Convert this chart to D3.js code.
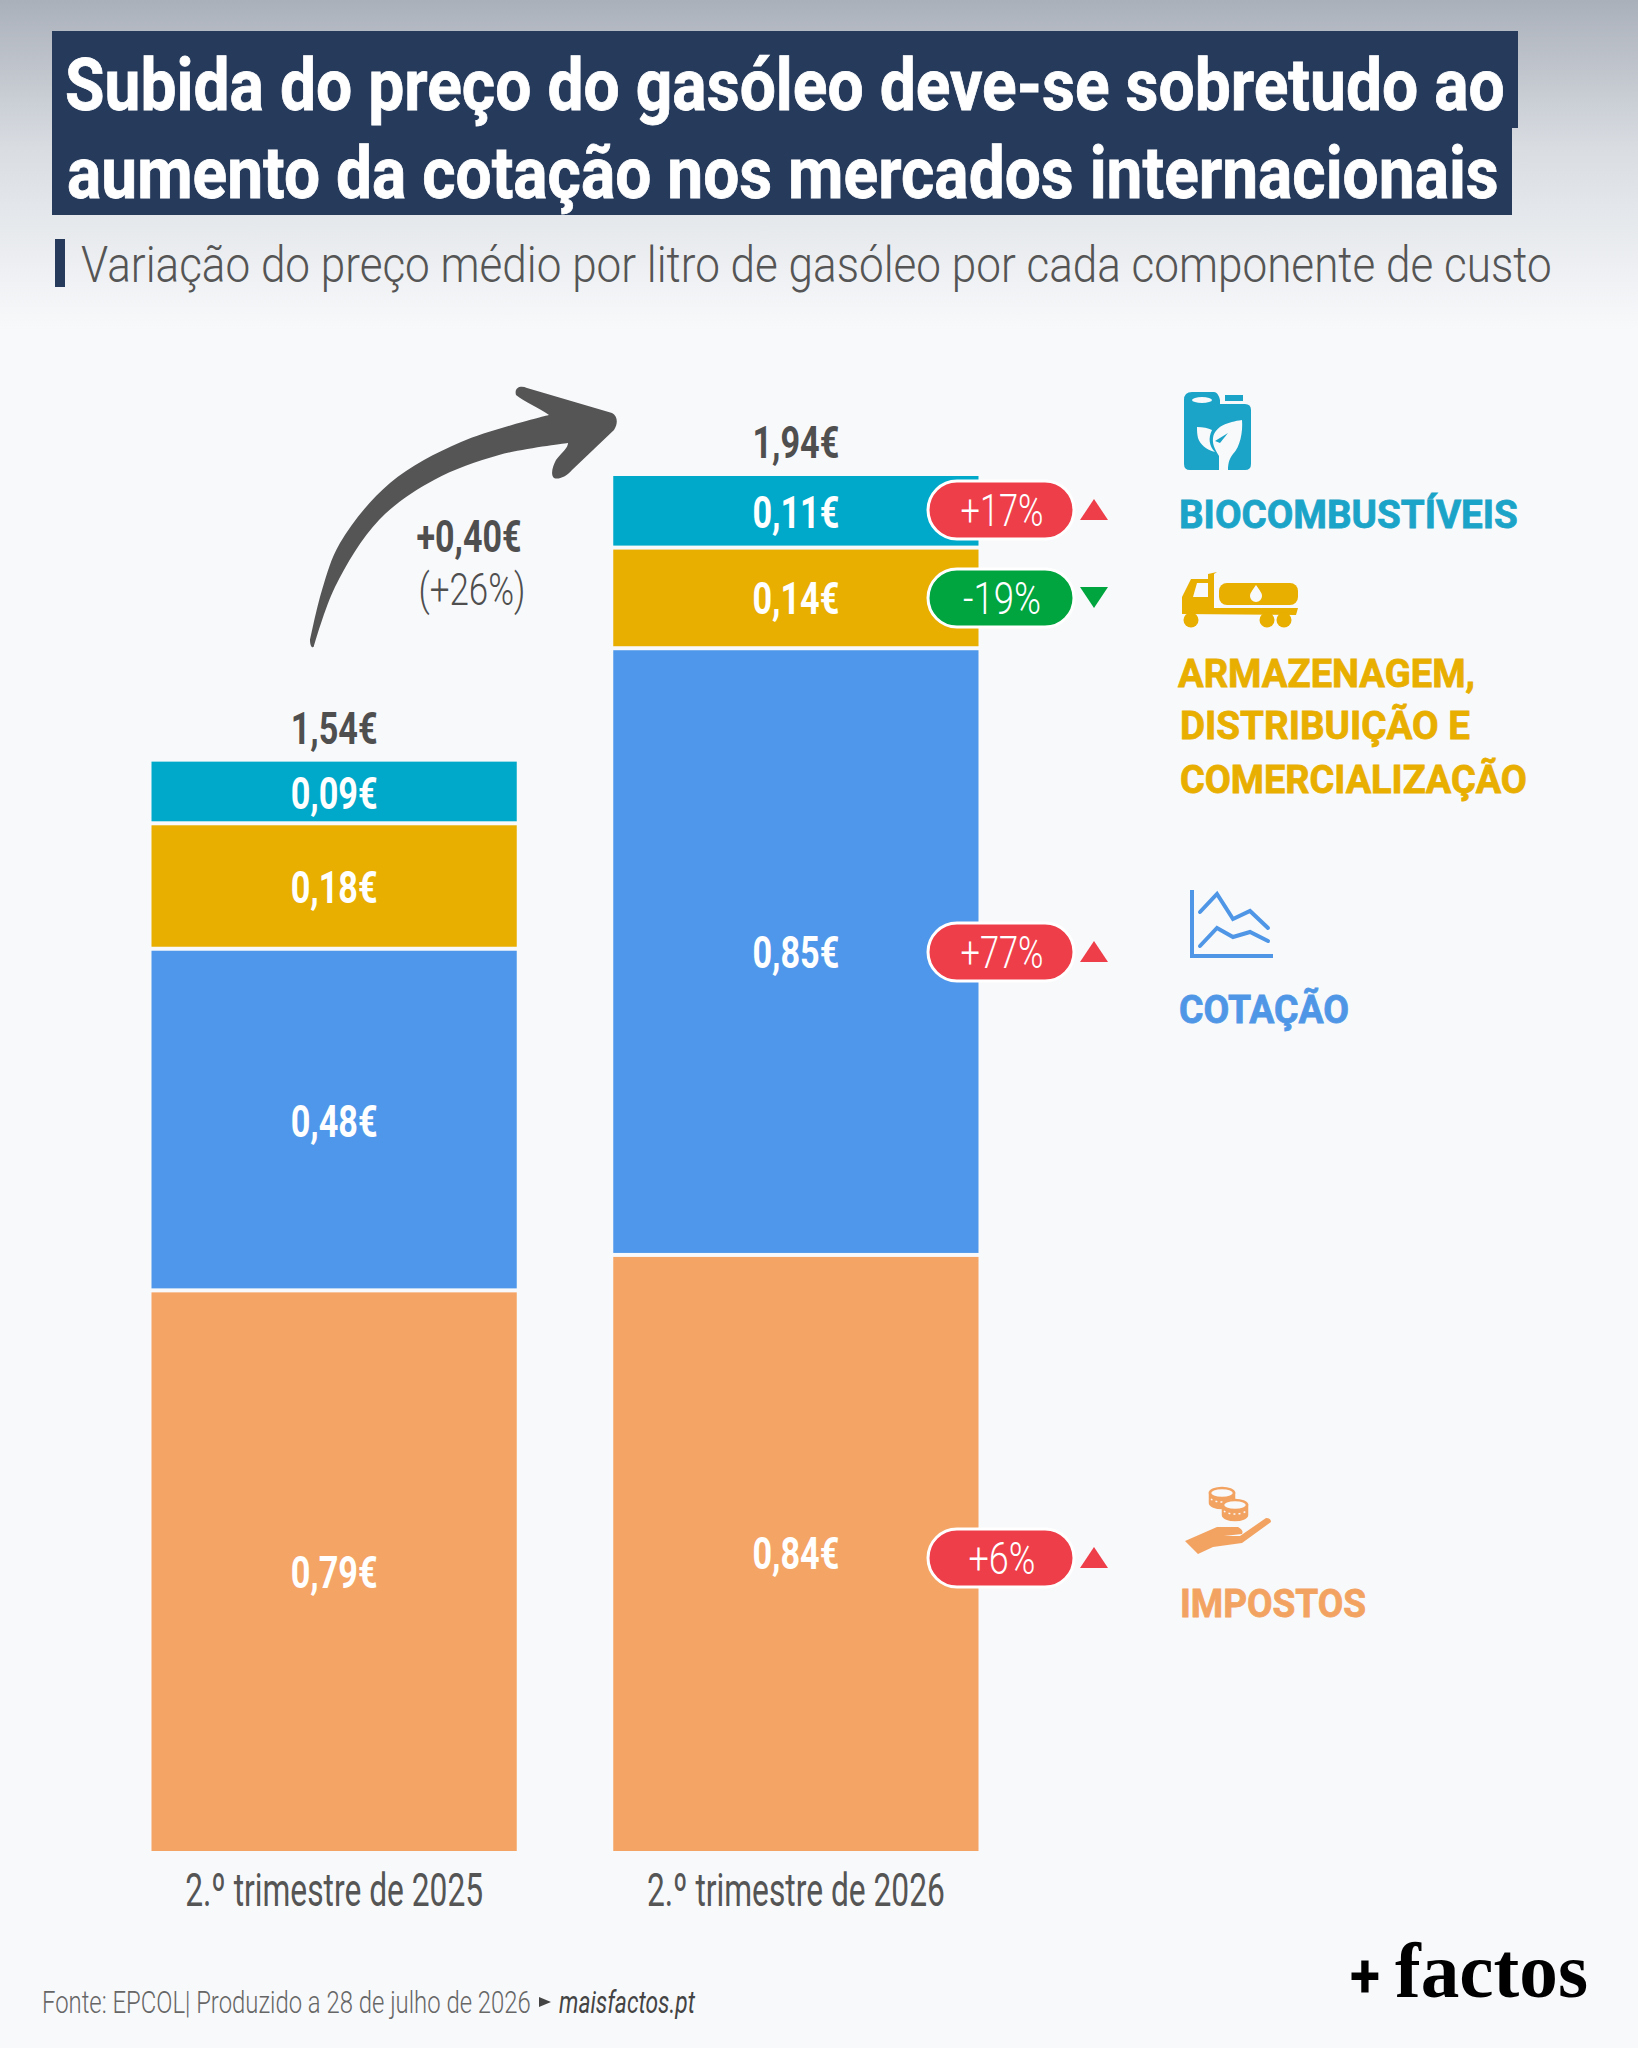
<!DOCTYPE html>
<html>
<head>
<meta charset="utf-8">
<script src="https://cdn.jsdelivr.net/npm/d3@7"></script>
<style>
  html, body { margin: 0; padding: 0; background: #f8f9fb; }
  svg { display: block; }
  text { font-family: Roboto, sans-serif; }
</style>
</head>
<body>
<div id="chart"></div>
<script>
// Data
const quarters = ["2.º trimestre de 2025", "2.º trimestre de 2026"];
const components = ["impostos", "cotacao", "armazenagem", "biocombustiveis"];
// segment heights in euro per litre, measured on the bars
const heights2025 = [0.791, 0.482, 0.177, 0.087];
const heights2026 = [0.841, 0.856, 0.142, 0.101];
// values as printed on the bars
const labels2025 = ["0,79€", "0,48€", "0,18€", "0,09€"];
const labels2026 = ["0,84€", "0,85€", "0,14€", "0,11€"];
const totals = ["1,54€", "1,94€"];
const changes = ["+6%", "+77%", "-19%", "+17%"];

const colors = { impostos: "#f4a465", cotacao: "#4f97ea", armazenagem: "#e8ae00", biocombustiveis: "#00a9c9" };
const legendColors = { impostos: "#f3a361", cotacao: "#4f97e6", armazenagem: "#e8ae00", biocombustiveis: "#1ba4c8" };
const grey = "#4f4f4f";
const paper = "#f8f9fb";

const W = 1638, H = 2048;

const svg = d3.select("#chart").append("svg")
  .attr("width", W)
  .attr("height", H);

// Background fade at the top
const defs = svg.append("defs");
const grad = defs.append("linearGradient")
  .attr("id", "topFade")
  .attr("x1", 0).attr("x2", 0).attr("y1", 0).attr("y2", 1);
grad.append("stop").attr("offset", "0%").attr("stop-color", "#aab0ba");
grad.append("stop").attr("offset", "45%").attr("stop-color", "#d9dde2");
grad.append("stop").attr("offset", "100%").attr("stop-color", paper);
svg.append("rect").attr("width", W).attr("height", H).attr("fill", paper);
svg.append("rect").attr("width", W).attr("height", 330).attr("fill", "url(#topFade)");

// Text helper, data-w is the measured width, applied at the end of the file
function label(g, str, x, y, size, weight, fill, width, anchor) {
  return g.append("text")
    .attr("transform", `translate(${x},${y})`)
    .attr("font-size", size)
    .attr("font-weight", weight)
    .attr("fill", fill)
    .attr("text-anchor", anchor || "start")
    .attr("data-w", width)
    .text(str);
}

// Title
const navy = "#263a5c";
svg.append("rect").attr("x", 52).attr("y", 31).attr("width", 1466).attr("height", 97).attr("fill", navy);
svg.append("rect").attr("x", 52).attr("y", 127).attr("width", 1460).attr("height", 88).attr("fill", navy);
label(svg, "Subida do preço do gasóleo deve-se sobretudo ao", 65, 110, 72, 700, "#fff", 1440)
  .attr("stroke", "#fff").attr("stroke-width", 0.8);
label(svg, "aumento da cotação nos mercados internacionais", 67, 198, 72, 700, "#fff", 1432)
  .attr("stroke", "#fff").attr("stroke-width", 0.8);

// Subtitle
svg.append("rect").attr("x", 55).attr("y", 239).attr("width", 10).attr("height", 48).attr("fill", navy);
label(svg, "Variação do preço médio por litro de gasóleo por cada componente de custo", 81, 282, 50, 300, "#555", 1471);

// Scales
const x = d3.scaleBand().domain(quarters).range([151.5, 978.5]).paddingInner(0.209);
const y = d3.scaleLinear().domain([0, 1.94]).range([1851, 476]);

const rows = quarters.map((q, i) => {
  const src = i === 0 ? heights2025 : heights2026;
  const row = { quarter: q };
  components.forEach((c, j) => { row[c] = src[j]; });
  return row;
});
const series = d3.stack().keys(components)(rows);

// Bars, with a thin gap between the segments
const gap = 2;
const layers = svg.selectAll(".layer").data(series).enter().append("g")
  .attr("class", "layer")
  .attr("fill", (d) => colors[d.key]);
layers.each(function (s) {
  const topGap = s.key === "biocombustiveis" ? 0 : gap;
  const bottomGap = s.key === "impostos" ? 0 : gap;
  d3.select(this).selectAll("rect").data(s).enter().append("rect")
    .attr("x", (d) => x(d.data.quarter))
    .attr("width", x.bandwidth())
    .attr("y", (d) => y(d[1]) + topGap)
    .attr("height", (d) => y(d[0]) - y(d[1]) - topGap - bottomGap);
});

// Bar labels
series.forEach((s, j) => {
  s.forEach((d, i) => {
    const txt = (i === 0 ? labels2025 : labels2026)[j];
    const cy = (y(d[0]) + y(d[1])) / 2;
    label(svg, txt, x(d.data.quarter) + x.bandwidth() / 2, cy + (i === 0 ? 17 : 16), 44, 700, "#fff", 87, "middle");
  });
});

// Totals
quarters.forEach((q, i) => {
  const top = d3.sum(i === 0 ? heights2025 : heights2026);
  label(svg, totals[i], x(q) + x.bandwidth() / 2, y(top) - 18, 44, 700, grey, 87, "middle");
});

// Change pills on the 2026 bar
const pillY = [1558, 952, 598, 510];
const pillText = [67, 83, 78, 83];
const red = "#ee3e4a", green = "#00a53f";
changes.forEach((c, i) => {
  const up = c[0] === "+";
  const col = up ? red : green;
  const cy = pillY[i];
  svg.append("rect")
    .attr("x", 928).attr("y", cy - 29)
    .attr("width", 146).attr("height", 58)
    .attr("rx", 29)
    .attr("fill", col)
    .attr("stroke", "#fff")
    .attr("stroke-width", 3);
  label(svg, c, 1002, cy + 16, 44, 300, "#fff", pillText[i], "middle");
  const tri = up
    ? [[1080, cy + 10], [1108, cy + 10], [1094, cy - 11]]
    : [[1080, cy - 11], [1108, cy - 11], [1094, cy + 10]];
  svg.append("polygon").attr("points", tri.join(" ")).attr("fill", col);
});

// Big arrow between the totals
const arrowCurve = d3.line().curve(d3.curveCatmullRom);
const arrowOuter = arrowCurve([[310, 640], [322, 590], [340, 543], [390, 483], [461, 442], [549, 415]]);
const arrowInner = arrowCurve([[568, 443], [499, 455], [434, 480], [379, 520], [335, 587], [314, 646]]);
svg.append("path")
  .attr("fill", "#555")
  .attr("d", arrowOuter +
    "C540,408 524,402 516,395 C514,388 520,385 527,388 L612,413 C618,416 618,424 614,430 " +
    "L572,470 C566,477 558,480 554,478 C550,474 553,466 556,460 C562,452 568,448 568,443 " +
    arrowInner.replace("M", "L") + "C313,649 310,647 310,640 Z");
label(svg, "+0,40€", 469, 552, 44, 700, grey, 105, "middle");
label(svg, "(+26%)", 472, 605, 44, 300, grey, 107, "middle");

// X axis labels
const axis = svg.append("g")
  .attr("transform", "translate(0,1851)")
  .call(d3.axisBottom(x).tickSize(0).tickPadding(0));
axis.select(".domain").remove();
axis.selectAll("text")
  .attr("y", 55)
  .attr("dy", 0)
  .attr("font-size", 46)
  .attr("font-family", "Roboto")
  .attr("fill", "#555")
  .attr("data-w", 298);

// Legend icons and names
const legend = svg.append("g");
function legendName(str, px, py, col, width) {
  label(legend, str, px, py, 39, 700, col, width)
    .attr("stroke", col).attr("stroke-width", 0.8);
}

const bio = legendColors.biocombustiveis;
legend.append("path").attr("fill", bio)
  .attr("d", "M1184,400 Q1184,392 1192,392 L1214,392 Q1218,392 1220,400 L1220,404 L1245,404 Q1251,404 1251,410 L1251,464 Q1251,470 1245,470 L1190,470 Q1184,470 1184,464 Z");
legend.append("rect").attr("x", 1225).attr("y", 395).attr("width", 18).attr("height", 6).attr("fill", bio);
legend.append("ellipse").attr("cx", 1202).attr("cy", 400).attr("rx", 10).attr("ry", 3).attr("fill", paper);
legend.append("path").attr("fill", paper)
  .attr("d", "M1242,420 C1228,422 1215,426 1213,438 C1212,446 1217,452 1219,456 L1219,470 L1228,470 C1228,462 1230,458 1233,454 C1240,447 1243,432 1242,420 Z");
legend.append("path").attr("fill", paper)
  .attr("d", "M1197,427 C1203,427 1208,428 1212,430 C1208,438 1209,446 1215,452 C1206,450 1200,444 1198,438 C1197,434 1197,430 1197,427 Z");
legend.append("path").attr("fill", bio).attr("d", "M1215,441 L1228,433 L1220,443 Z");
legendName("BIOCOMBUSTÍVEIS", 1179, 528, bio, 339);

const yel = legendColors.armazenagem;
legend.append("path").attr("fill", yel)
  .attr("d", "M1182,614 L1182,597 L1191,579 L1208,579 L1208,574 L1217,572 L1214,574 L1214,608 L1298,608 L1296,615 Z");
legend.append("path").attr("fill", paper).attr("d", "M1193,597 L1197,583 L1208,583 L1208,597 Z");
legend.append("rect").attr("x", 1219).attr("y", 583).attr("width", 79).attr("height", 22).attr("rx", 8).attr("fill", yel);
legend.append("path").attr("fill", paper).attr("d", "M1256,585 C1252,591 1250,593 1250,596 A6,6 0 0 0 1262,596 C1262,593 1260,591 1256,585 Z");
[1191, 1267, 1284].forEach((cx) => {
  legend.append("circle").attr("cx", cx).attr("cy", 620).attr("r", 7.5).attr("fill", yel);
});
legendName("ARMAZENAGEM,", 1178, 687, yel, 297);
legendName("DISTRIBUIÇÃO E", 1180, 739, yel, 290);
legendName("COMERCIALIZAÇÃO", 1180, 793, yel, 347);

const blu = legendColors.cotacao;
const iconLine = d3.line();
const chartIcon = legend.append("g").attr("fill", "none").attr("stroke", blu).attr("stroke-width", 4);
chartIcon.append("path").attr("d", iconLine([[1192, 890], [1192, 956], [1273, 956]]));
chartIcon.append("path").attr("stroke-linecap", "round").attr("d", iconLine([[1200, 912], [1217, 894], [1233, 919], [1250, 911], [1268, 928]]));
chartIcon.append("path").attr("stroke-linecap", "round").attr("d", iconLine([[1200, 946], [1217, 928], [1233, 937], [1250, 932], [1268, 941]]));
legendName("COTAÇÃO", 1179, 1023, blu, 170);

const ora = legendColors.impostos;
legend.append("path").attr("fill", ora)
  .attr("d", "M1185,1541 L1217,1527 L1238,1527 Q1244,1530 1242,1534 L1224,1536 L1240,1536 L1266,1518 Q1271,1518 1271,1522 L1242,1543 L1213,1547 L1198,1554 Z");
[[1222, 1493], [1235, 1505]].forEach(([cx, cy]) => {
  const coin = legend.append("g").attr("stroke", ora).attr("stroke-width", 2.5);
  coin.append("path").attr("fill", ora)
    .attr("d", `M${cx - 12},${cy} L${cx - 12},${cy + 10} A12,5 0 0 0 ${cx + 12},${cy + 10} L${cx + 12},${cy} Z`);
  coin.append("ellipse").attr("fill", paper).attr("cx", cx).attr("cy", cy).attr("rx", 12).attr("ry", 5);
  coin.append("path").attr("fill", "none").attr("stroke", paper).attr("stroke-width", 1.5).attr("stroke-dasharray", "2 3")
    .attr("d", `M${cx - 11},${cy + 6} A12,5 0 0 0 ${cx + 11},${cy + 6}`);
});
legendName("IMPOSTOS", 1180, 1617, ora, 186);

// Footer
label(svg, "Fonte: EPCOL| Produzido a 28 de julho de 2026", 42, 2013, 32, 300, "#666", 489);
svg.append("polygon").attr("points", "539,1997 551,2002 539,2007").attr("fill", "#444");
label(svg, "maisfactos.pt", 559, 2013, 32, 400, "#444", 136).style("font-style", "italic");

// Logo
label(svg, "+", 1350, 1997, 62, 700, "#000", 30);
label(svg, "factos", 1395, 1997, 78, 700, "#000", 193).style("font-family", "Liberation Serif");

// Squeeze each text to its measured width
svg.selectAll("text[data-w]").each(function () {
  const t = d3.select(this);
  const k = +t.attr("data-w") / this.getComputedTextLength();
  t.attr("transform", `${t.attr("transform") || ""} scale(${k},1)`);
});
</script>
</body>
</html>
